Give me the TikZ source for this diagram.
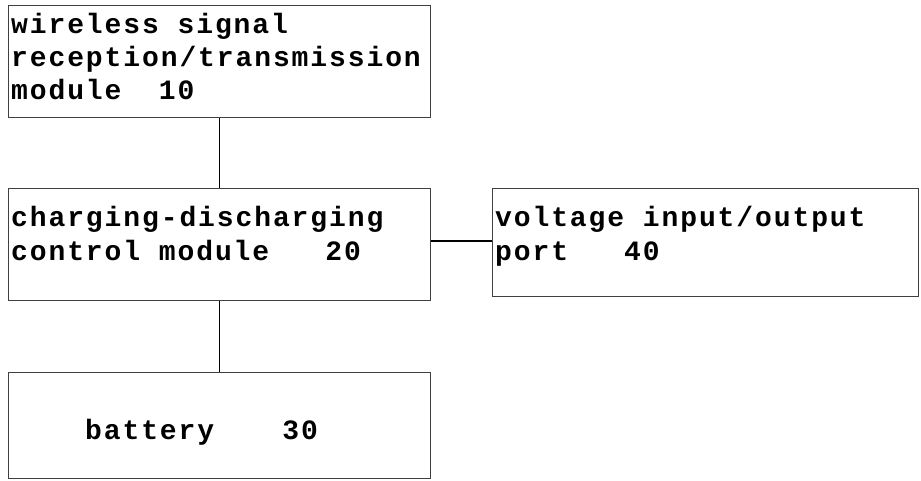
\documentclass[tikz,border=0pt]{standalone}
\usepackage{fontspec}
\newfontfamily\boxfont[LetterSpace=6.8]{Liberation Mono}
\begin{document}
\begin{tikzpicture}[x=1pt,y=-1pt,
  blk/.style={draw=black!75, line width=1.2pt, minimum width=#1, anchor=north west, inner sep=0pt},
  lbl/.style={anchor=base west, inner sep=0pt, align=left, font=\boxfont\bfseries\fontsize{28}{33}\selectfont},
  wire/.style={draw=black, line width=1.3pt}]
\useasboundingbox (0,0) rectangle (921,481);
\node[blk=422pt, minimum height=112pt] (b10) at (8,5) {};
\node[blk=422pt, minimum height=112pt] (b20) at (8,188) {};
\node[blk=426pt, minimum height=108pt] (b40) at (492,188) {};
\node[blk=422pt, minimum height=106pt] (b30) at (8,372) {};
\node[lbl] (t10) at (11,100) {wireless signal\\reception/transmission\\module\ \ 10};
\node[lbl] (t20) at (11,260) {charging-discharging\\control module\ \ \ 20};
\node[lbl] (t40) at (495,260) {voltage input/output\\port\ \ \ 40};
\node[lbl] (t30) at (85,439) {battery\ \ \ \hspace{12pt}30};
\draw[wire] (b10.south) -- (b20.north);
\draw[wire] (b20.south) -- (b30.north);
\draw[wire] (b20.east |- 0,241) -- (b40.west |- 0,241);
\end{tikzpicture}
\end{document}
